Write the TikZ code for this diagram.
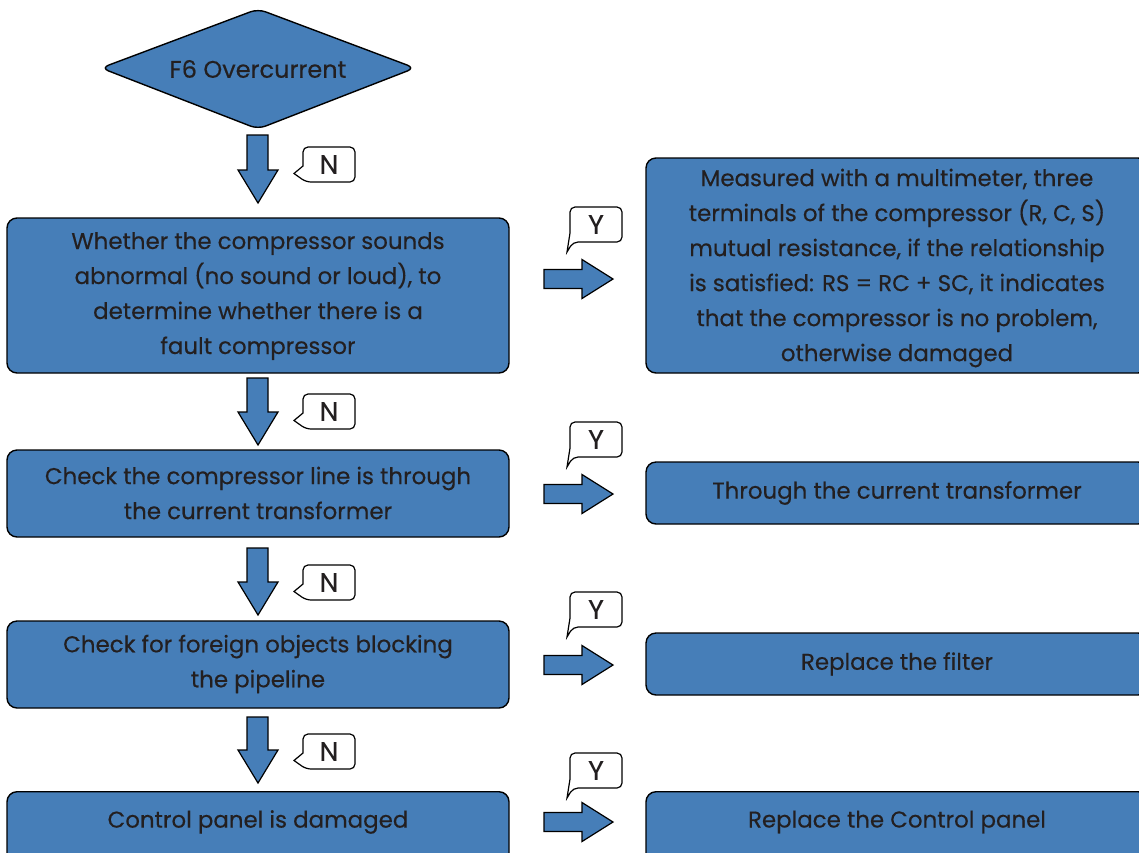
\documentclass[tikz,border=0pt]{standalone}
\usepackage{fontspec}
\setmainfont{Poppins}[FakeBold=0.35]
\definecolor{boxblue}{RGB}{70,126,184}
\definecolor{ink}{RGB}{35,31,32}
\tikzset{
  box/.style={draw=black, line width=1.4pt, fill=boxblue, rounded corners=10pt, inner sep=0pt, text=ink},
  txt/.style={text=ink, align=center, font=\fontsize{22.9}{35}\selectfont, inner sep=0pt},
  blockarrow/.style={draw=black, line width=1.2pt, fill=boxblue, line join=miter},
  callout/.style={draw=black, line width=1.2pt, fill=white, rounded corners=5pt},
  letter/.style={text=ink, font=\fontsize{27}{27}\selectfont, inner sep=0pt}
}
\begin{document}
\begin{tikzpicture}[x=1pt,y=-1pt]
\useasboundingbox (0,0) rectangle (1139,852);
% start diamond
\draw[box, rounded corners=8pt] (101,68) -- (258,9) -- (415,68) -- (258,129) -- cycle;
\node[txt, font=\fontsize{24}{30}\selectfont] (start) at (258,69) {F6 Overcurrent};

% left boxes
\node[box, minimum width=502pt, minimum height=155pt] (b1) at (258,295.5) {};
\node[txt] (t1) at (258,296) {Whether the compressor sounds\\abnormal (no sound or loud), to\\determine whether there is a\\fault compressor};
\node[box, minimum width=502pt, minimum height=87pt] (b2) at (258,493.5) {};
\node[txt] (t2) at (258,493) {Check the compressor line is through\\the current transformer};
\node[box, minimum width=502pt, minimum height=87pt] (b3) at (258,664.5) {};
\node[txt] (t3) at (258,664) {Check for foreign objects blocking\\the pipeline};
\node[box, minimum width=502pt, minimum height=90pt, anchor=north] (b4) at (258,791) {};
\node[txt] (t4) at (258,822) {Control panel is damaged};

% right boxes
\node[box, minimum width=502pt, minimum height=215pt] (r1) at (897,265.5) {};
\node[txt] (s1) at (897,268) {Measured with a multimeter, three\\terminals of the compressor (R, C, S)\\mutual resistance, if the relationship\\is satisfied: RS = RC + SC, it indicates\\that the compressor is no problem,\\otherwise damaged};
\node[box, minimum width=502pt, minimum height=62pt] (r2) at (897,493) {};
\node[txt] (s2) at (897,493) {Through the current transformer};
\node[box, minimum width=502pt, minimum height=62pt] (r3) at (897,664) {};
\node[txt] (s3) at (897,664) {Replace the filter};
\node[box, minimum width=502pt, minimum height=90pt, anchor=north] (r4) at (897,791) {};
\node[txt] (s4) at (897,822) {Replace the Control panel};

% down arrows
\foreach \t/\b in {135/203, 378/445, 548/615, 717/783}{
  \pgfmathsetmacro{\h}{\b-33}
  \draw[blockarrow] (247,\t) -- (268,\t) -- (268,\h) -- (278,\h) -- (258,\b) -- (238,\h) -- (247,\h) -- cycle;
}
% right arrows
\foreach \c in {279, 494, 665, 822}{
  \draw[blockarrow] (544,\c-9.5) -- (582,\c-9.5) -- (582,\c-19.5) -- (613,\c) -- (582,\c+19.5) -- (582,\c+9.5) -- (544,\c+9.5) -- cycle;
}
% N callouts
\foreach \t/\n in {147/1, 394/2, 565/3, 734/4}{
  \draw[callout] (303,\t) -- (355,\t) -- (355,\t+35) -- (306,\t+35)
     [sharp corners] -- (294,\t+26.5) -- (303,\t+19) [rounded corners=5pt] -- cycle;
  \node[letter] (N\n) at (329,\t+17.5) {N};
}
% Y callouts
\foreach \t/\n in {207/1, 422/2, 592/3, 753/4}{
  \draw[callout] (570,\t) -- (622,\t) -- (622,\t+35) -- (573,\t+35)
     [sharp corners] -- (567,\t+45) -- (570,\t+26) [rounded corners=5pt] -- cycle;
  \node[letter] (Y\n) at (596,\t+17.5) {Y};
}
\end{tikzpicture}
\end{document}
